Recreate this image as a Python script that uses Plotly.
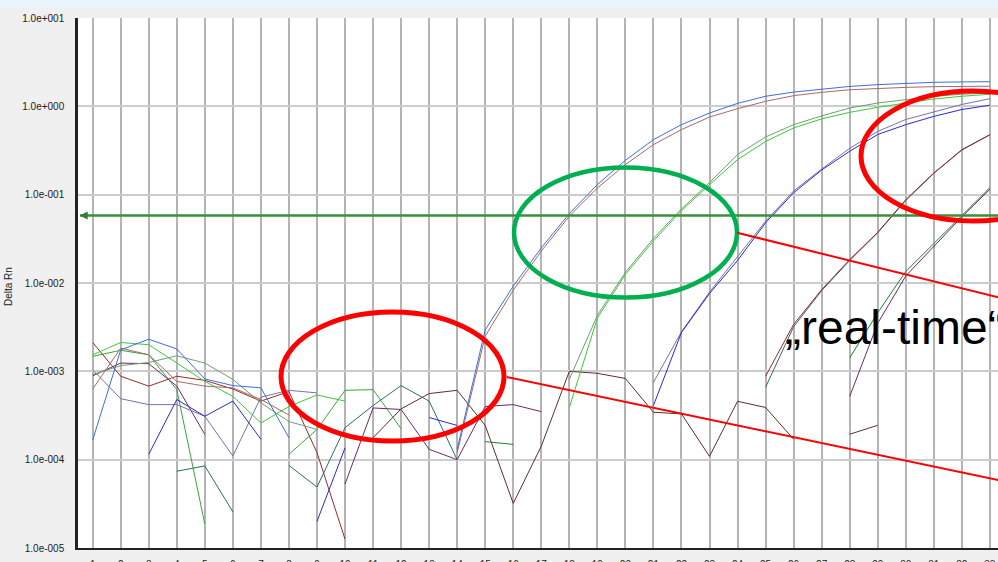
import math
import plotly.graph_objects as go

N = None
cycles = list(range(1, 34))

# Delta Rn per cycle (None = value <= 0, not drawn on log scale)
blue_early = [1.67e-4, 1.75e-3, 2.31e-3, 1.79e-3, 8.2e-4, 6.9e-4, 6.5e-4, 1.77e-4,
              N, N, N, N, N,
              1.31e-4, 2.95e-3, 9.2e-3, 0.025, 0.061, 0.13, 0.245, 0.42, 0.62, 0.84,
              1.08, 1.30, 1.45, 1.57, 1.68, 1.76, 1.82, 1.87, 1.89, 1.90]
rose_early = [6.3e-4, 1.83e-3, 1.54e-3, 7.7e-4, 6.8e-4, 6.5e-4, 4.8e-4, 3.2e-4,
              N, N, N, N, N,
              1.2e-4, 2.5e-3, 8.3e-3, 0.023, 0.057, 0.119, 0.219, 0.368, 0.545, 0.757,
              0.94, 1.14, 1.32, 1.44, 1.54, 1.60, 1.64, 1.67, 1.68, 1.69]
green_bright = [1.54e-3, 2.12e-3, 2.0e-3, 1.24e-3, 7.7e-4, 5.2e-4, 2.6e-4, 4.0e-4, 5.4e-4, 4.6e-4,
                N, N, N, N, N, N, N,
                3.9e-4, 4.0e-3, 0.0125, 0.030, 0.066, 0.13, 0.249, 0.40, 0.57, 0.72,
                0.855, 0.975, 1.09, 1.21, 1.30, 1.37]
green_gray = [9.2e-4, 1.16e-3, 1.26e-3, 1.5e-3, 1.24e-3, 8.1e-4, 4.4e-4, 2.7e-4, 2.2e-4,
              N, N, N, N, N, N, N, N,
              8.1e-4, 4.3e-3, 0.0132, 0.032, 0.069, 0.137, 0.284, 0.45, 0.62, 0.78,
              0.957, 1.09, 1.19, 1.30, 1.37, 1.42]
green_mid = [1.48e-3, 1.73e-3, 1.54e-3, 6.2e-4, 1.86e-5, N, N,
             1.15e-4, 2.2e-4, 6.1e-4, 6.2e-4, 2.24e-4,
             N, N, N, N, N, N, N, N, N, N, N, N, N, N, N, N, N, N, N, N, N]
red_dark = [2.12e-3, 8.8e-4, 6.8e-4, 8.8e-4, 7.9e-4, 6.3e-4, 4.6e-4, 5.9e-4, 1.2e-4, 1.26e-5,
            N, N, N, N, N, N, N, N, N, N, N, N, N, N,
            8.8e-4, 3.4e-3, 8.4e-3, 0.0184, 0.0375, 0.0877, 0.176, 0.323, 0.478]
purple = [8.9e-4, 1.24e-3, 1.22e-3, 6.8e-4, 1.93e-4, N, N, N, N,
          5.3e-5, 3.85e-4, 3.7e-4, 1.31e-4, 1.0e-4, 4.0e-4, 4.2e-4, 3.5e-4,
          N, N, N, N, N, N, N, N, N, N,
          5.2e-4, 3.5e-3, 0.012, 0.026, 0.056, 0.115]
lavender = [1.04e-3, 4.9e-4, 4.2e-4, 4.2e-4, 3.1e-4, 1.1e-4, 5.1e-4, 6.1e-4, 5.7e-4,
            N, N, N, N, N, N, N, N, N, N, N,
            7.5e-4, 2.8e-3, 7.9e-3, 0.020, 0.05, 0.11, 0.195, 0.335, 0.52, 0.71, 0.87, 1.05, 1.22]
blue_dark = [N, N, 1.15e-4, 4.8e-4, 3.1e-4, 4.6e-4, 1.7e-4, N, 2.0e-5, 1.36e-4, N, N,
             3.0e-4, 2.44e-4, N, N, N, N, N, N,
             4.1e-4, 2.75e-3, 7.6e-3, 0.018, 0.048, 0.105, 0.19, 0.31, 0.48, 0.62, 0.77, 0.92, 1.03]
teal = [N, N, N, 7.4e-5, 8.5e-5, 2.57e-5, N,
        8.6e-5, 4.9e-5, 2.3e-4, 4.1e-4, 6.9e-4, 4.6e-4, 1.0e-4,
        N, N, N, N, N, N, N, N, N, N,
        6.6e-4, 3.2e-3, 8.2e-3, 0.018, 0.037, 0.086, 0.174, 0.32, 0.475]
maroon_ntc = [N, N, N, N, N, N, N, N, N, N,
              1.77e-4, 3.76e-4, 5.6e-4, 6.1e-4, 2.44e-4, 3.2e-5, 1.42e-4, 1.0e-3, 9.5e-4,
              8.3e-4, 3.44e-4, 3.3e-4, 1.09e-4, 4.58e-4, 3.9e-4, 1.7e-4, N,
              1.94e-4, 2.45e-4, N, N, N, N]
green_dark = [N, N, N, N, N, N, N, N, N, N, N, N, N, N,
              1.6e-4, 1.49e-4, N, N, N, N, N, N, N, N, N, N, N,
              1.42e-3, 4.6e-3, 0.0135, 0.028, 0.058, 0.12]

threshold = 0.058

y_tick_vals = [1e-5, 1e-4, 1e-3, 1e-2, 1e-1, 1e0, 1e1]
y_tick_text = ["1.0e-005", "1.0e-004", "1.0e-003", "1.0e-002", "1.0e-001", "1.0e+000", "1.0e+001"]
x_tick_text = [str(c) for c in cycles]

series = [
    (maroon_ntc, "#5e2e2e"),
    (green_mid, "#3aa53a"),
    (teal, "#2d6b6b"),
    (red_dark, "#9a2a2a"),
    (purple, "#6a2a6a"),
    (green_dark, "#1f7f2f"),
    (lavender, "#7474aa"),
    (blue_dark, "#2a2ad0"),
    (green_gray, "#6f9f6f"),
    (green_bright, "#3cc83c"),
    (rose_early, "#a66a6a"),
    (blue_early, "#3c6fe0"),
]

fig = go.Figure()
for vals, col in series:
    fig.add_trace(go.Scatter(x=cycles, y=vals, mode="lines",
                             line=dict(color=col, width=1), connectgaps=False,
                             hoverinfo="skip", showlegend=False))

X0, X1 = 0.476, 33.29
fig.add_trace(go.Scatter(x=[X0 + 0.07, X1], y=[threshold, threshold], mode="lines",
                         line=dict(color="#3a8f3a", width=2.5), showlegend=False,
                         hoverinfo="skip"))

W, H = 998, 562
L, R, T, B = 78, 0, 18, 14
PW, PH = W - L - R, H - T - B


def px(x):
    return (x - L) / PW


def py(y):
    return (H - B - y) / PH


shapes = [
    # top light-blue band of the slide
    dict(type="rect", xref="paper", yref="paper", x0=px(-10), x1=px(1010),
         y0=py(7), y1=py(-5), fillcolor="#eaf4fc", line=dict(width=0), layer="below"),
    # green ellipse
    dict(type="circle", xref="paper", yref="paper", x0=px(514), x1=px(737),
         y0=py(297.5), y1=py(167.5), line=dict(color="#00b050", width=4.5)),
    # red ellipse (baseline)
    dict(type="circle", xref="paper", yref="paper", x0=px(281), x1=px(504),
         y0=py(441), y1=py(312), line=dict(color="#ff0000", width=5)),
    # red ellipse (plateau)
    dict(type="circle", xref="paper", yref="paper", x0=px(861), x1=px(1084),
         y0=py(221), y1=py(91), line=dict(color="#ff0000", width=5)),
    # red connector lines
    dict(type="line", xref="paper", yref="paper", x0=px(737), y0=py(232.7),
         x1=px(1000), y1=py(297.8), line=dict(color="#ff0000", width=2)),
    dict(type="line", xref="paper", yref="paper", x0=px(506.7), y0=py(377),
         x1=px(1000), y1=py(480.5), line=dict(color="#ff0000", width=2)),
]

annotations = [
    dict(x=X0 + 0.06, y=math.log10(threshold), xref="x", yref="y", text="",
         showarrow=True, arrowhead=2, arrowsize=1, arrowwidth=1.6,
         arrowcolor="#2f7f2f", ax=10, ay=0),
    dict(x=px(8), y=py(287), xref="paper", yref="paper", text="Delta Rn",
         xanchor="center", yanchor="middle",
         textangle=-90, showarrow=False, font=dict(family="Arial, Liberation Sans", size=10, color="#222222")),
    dict(x=px(783), y=py(327), xref="paper", yref="paper", text="\u201ereal-time\u201c",
         xanchor="left", yanchor="middle", showarrow=False,
         font=dict(family="Arial, Liberation Sans", size=48, color="#000000")),
]

fig.update_layout(
    width=W, height=H,
    margin=dict(l=L, r=R, t=T, b=B, pad=0),
    paper_bgcolor="#f0f0f0",
    plot_bgcolor="#ffffff",
    shapes=shapes,
    annotations=annotations,
    showlegend=False,
    font=dict(family="Arial, Liberation Sans", size=10, color="#222222"),
)
fig.update_xaxes(range=[X0, X1], tickvals=cycles, ticktext=x_tick_text,
                 showgrid=True, gridcolor="#b4b4b4", gridwidth=1.5,
                 showline=True, linecolor="#222222", linewidth=2,
                 ticks="outside", ticklen=6, tickcolor="rgba(0,0,0,0)",
                 zeroline=False, automargin=False,
                 tickfont=dict(size=10, color="#222222"))
fig.update_yaxes(type="log", range=[-5, 1], tickvals=y_tick_vals, ticktext=y_tick_text,
                 showgrid=True, gridcolor="#cccccc", gridwidth=2,
                 showline=True, linecolor="#222222", linewidth=2.5,
                 ticks="outside", ticklen=9, tickcolor="rgba(0,0,0,0)",
                 zeroline=False, automargin=False,
                 tickfont=dict(size=10, color="#222222"))

fig.write_html("out.html", config={"displayModeBar": False},
               post_script="document.body.style.margin='0px';document.body.style.overflow='hidden';")
